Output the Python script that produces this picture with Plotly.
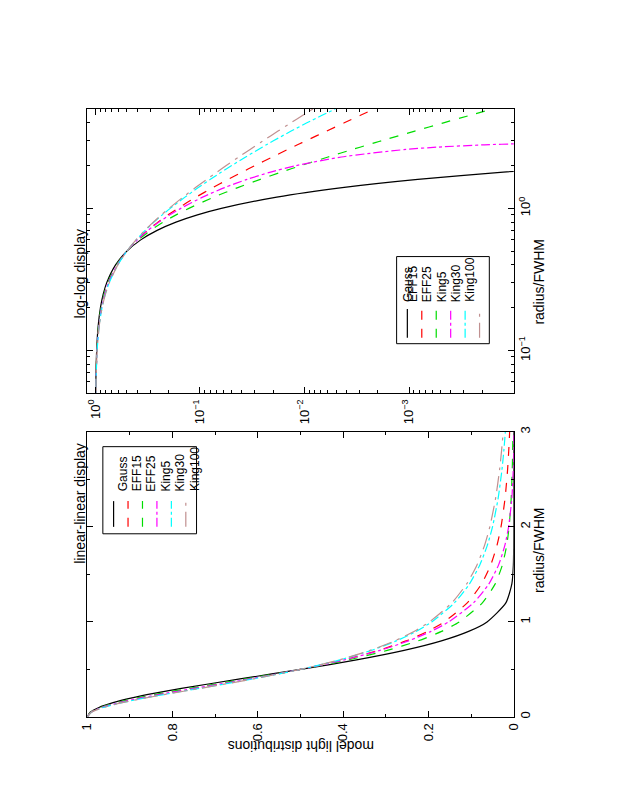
import plotly.graph_objects as go

# radius in units of FWHM
radius = [0, 0.05, 0.1, 0.15, 0.2, 0.25, 0.3, 0.4, 0.5, 0.6, 0.7, 0.8, 0.9, 1.0,
          1.2, 1.4, 1.6, 1.8, 2.0, 2.3, 2.6, 2.8, 2.9, 3.0, 3.5, 4.0, 4.5, 5.0]
gauss = [1, 0.9931, 0.9727, 0.9395, 0.8950, 0.8409, 0.7792, 0.6417, 0.5, 0.3686, 0.2570,
         0.1696, 0.1058, 0.0625, 0.01845, 0.004366, 8.27e-4, 1.256e-4, 1.53e-5, 4.3e-7,
         7.3e-9, 3.6e-10, 7.4e-11, 1.4e-11, 0, 0, 0, 0]
eff15 = [1, 0.99125, 0.96576, 0.92563, 0.87394, 0.81420, 0.74997, 0.61960, 0.5, 0.39875,
         0.31692, 0.25243, 0.20216, 0.16311, 0.10895, 0.07536, 0.05383, 0.03957, 0.02983,
         0.02032, 0.01442, 0.01169, 0.01057, 0.009597, 0.006153, 0.004171, 0.002953, 0.002166]
eff25 = [1, 0.99206, 0.96875, 0.93158, 0.88281, 0.82521, 0.76172, 0.62808, 0.5, 0.38818,
         0.29652, 0.22440, 0.16920, 0.12767, 0.07353, 0.04348, 0.02652, 0.01669, 0.01083,
         0.005960, 0.003465, 0.002481, 0.002113, 0.001810, 8.83e-4, 4.69e-4, 2.67e-4, 1.60e-4]
king30 = [1, 0.99031, 0.96230, 0.91890, 0.86418, 0.80252, 0.73788, 0.61149, 0.5, 0.40782,
          0.33393, 0.27540, 0.22909, 0.19229, 0.13906, 0.10376, 0.07952, 0.06231, 0.04976,
          0.03655, 0.02762, 0.02321, 0.02135, 0.01967, 0.01343, 0.009488, 0.006881, 0.005090]
king100 = [1, 0.99016, 0.96177, 0.91788, 0.86271, 0.80077, 0.73608, 0.61028, 0.5, 0.40924,
           0.33668, 0.27927, 0.23384, 0.19770, 0.14528, 0.11032, 0.08613, 0.06882, 0.05608,
           0.04251, 0.03319, 0.02853, 0.02654, 0.02475, 0.01793, 0.01351, 0.010479, 0.008325]
radius_king5 = [0, 0.05, 0.1, 0.15, 0.2, 0.25, 0.3, 0.4, 0.5, 0.6, 0.7, 0.8, 0.9, 1.0,
                1.2, 1.4, 1.6, 1.8, 2.0, 2.3, 2.6, 2.7, 2.8, 2.85, 2.9, 2.95, 2.9654, 3.0]
king5 = [1, 0.99123, 0.96567, 0.92550, 0.87382, 0.81418, 0.75008, 0.61994, 0.5, 0.39757,
         0.31380, 0.24688, 0.19407, 0.15257, 0.09437, 0.05821, 0.03549, 0.02112, 0.012033,
         0.004441, 0.001068, 5.253e-4, 1.906e-4, 8.97e-5, 2.79e-5, 1.5e-6, 0, 0]

series = [
    ("Gauss", radius, gauss, "black", "solid"),
    ("EFF15", radius, eff15, "red", "dash"),
    ("EFF25", radius, eff25, "#00dd00", "dash"),
    ("King5", radius_king5, king5, "magenta", "dashdot"),
    ("King30", radius, king30, "cyan", "dashdot"),
    ("King100", radius, king100, "#c09090", "longdashdot"),
]

W, H = 623, 806
def px(x):
    return x / W
def py(y):
    return 1 - y / H

fig = go.Figure()
for name, r, v, col, dash in series:
    fig.add_trace(go.Scatter(x=v, y=r, mode="lines", name=name, xaxis="x", yaxis="y",
                             line=dict(color=col, dash=dash, width=1.2, shape="spline", smoothing=0.6)))
    fig.add_trace(go.Scatter(x=v, y=r, mode="lines", name=name, xaxis="x2", yaxis="y2",
                             line=dict(color=col, dash=dash, width=1.2, shape="spline", smoothing=0.6)))

font = dict(family="Liberation Sans, Arial, sans-serif", size=13, color="black")
ax = dict(showline=True, linecolor="black", linewidth=1, mirror="ticks", ticks="inside",
          ticklen=6, tickcolor="black", showgrid=False, zeroline=False, tickangle=-90,
          tickfont=font)

dom_x = [px(73), px(510)]
fig.update_layout(
    width=W, height=H, showlegend=False, plot_bgcolor="white", paper_bgcolor="white",
    margin=dict(l=0, r=0, t=0, b=0), font=font,
    xaxis=dict(ax, domain=dom_x, anchor="y", range=[1, 0], tickvals=[0, 0.2, 0.4, 0.6, 0.8, 1],
               ticktext=["0", "0.2", "0.4", "0.6", "0.8", "1"], side="bottom",
               minor=dict(ticks="inside", ticklen=3, tickcolor="black", dtick=0.1)),
    yaxis=dict(ax, domain=[py(710), py(422)], anchor="x", range=[0, 3], dtick=1, side="right",
               minor=dict(ticks="inside", ticklen=3, tickcolor="black", dtick=0.5)),
    xaxis2=dict(ax, domain=dom_x, anchor="y2", type="log", range=[0.078, -4],
                tickvals=[1, 0.1, 0.01, 0.001],
                ticktext=["10<sup>0</sup>", "10<sup>−1</sup>", "10<sup>−2</sup>", "10<sup>−3</sup>"],
                side="bottom",
                minor=dict(ticks="inside", ticklen=3, tickcolor="black", tickmode="array",
                           tickvals=[m * 10 ** e for e in range(-4, 0) for m in range(2, 10)])),
    yaxis2=dict(ax, domain=[py(383), py(96)], anchor="x2", type="log", range=[-1.301, 0.699],
                tickvals=[0.1, 1], ticktext=["10<sup>−1</sup>", "10<sup>0</sup>"], side="right",
                minor=dict(ticks="inside", ticklen=3, tickcolor="black", tickmode="array",
                           tickvals=[0.05, 0.06, 0.07, 0.08, 0.09, 0.2, 0.3, 0.4, 0.5, 0.6,
                                     0.7, 0.8, 0.9, 2, 3, 4, 5])),
)

# titles (the page is rotated)
fig.add_annotation(x=px(55), y=py(494), xref="paper", yref="paper", text="linear-linear display",
                   textangle=-90, showarrow=False, font=dict(font, size=14))
fig.add_annotation(x=px(55), y=py(215), xref="paper", yref="paper", text="log-log display",
                   textangle=-90, showarrow=False, font=dict(font, size=14))
fig.add_annotation(x=px(546), y=py(587), xref="paper", yref="paper", text="radius/FWHM",
                   textangle=-90, showarrow=False, font=dict(font, size=14))
fig.add_annotation(x=px(546), y=py(225), xref="paper", yref="paper", text="radius/FWHM",
                   textangle=-90, showarrow=False, font=dict(font, size=14))
fig.add_annotation(x=px(292), y=py(750), xref="paper", yref="paper", text="model light distributions",
                   textangle=180, showarrow=False, font=dict(font, size=14))

# hand-drawn legends (rotated)
legends = [
    dict(box=(89, 437, 185, 525), x0=100, step=14.8, line=(492, 518), text_bottom=484),
    dict(box=(390, 245, 485, 333), x0=401, step=14.8, line=(298, 327), text_bottom=293),
]
for lg in legends:
    bx0, by0, bx1, by1 = lg["box"]
    fig.add_shape(type="rect", xref="paper", yref="paper", x0=px(bx0), x1=px(bx1),
                  y0=py(by1), y1=py(by0), line=dict(color="black", width=1), fillcolor="white")
    for i, (name, r, v, col, dash) in enumerate(series):
        xx = lg["x0"] + i * lg["step"]
        fig.add_shape(type="line", xref="paper", yref="paper", x0=px(xx), x1=px(xx),
                      y0=py(lg["line"][1]), y1=py(lg["line"][0]),
                      line=dict(color=col, dash=dash, width=1.2))
        fig.add_annotation(x=px(xx), y=py(lg["text_bottom"]), xref="paper", yref="paper",
                           text=name, textangle=-90, showarrow=False, yanchor="bottom",
                           font=dict(font, size=12))

fig.write_html("out.html")
